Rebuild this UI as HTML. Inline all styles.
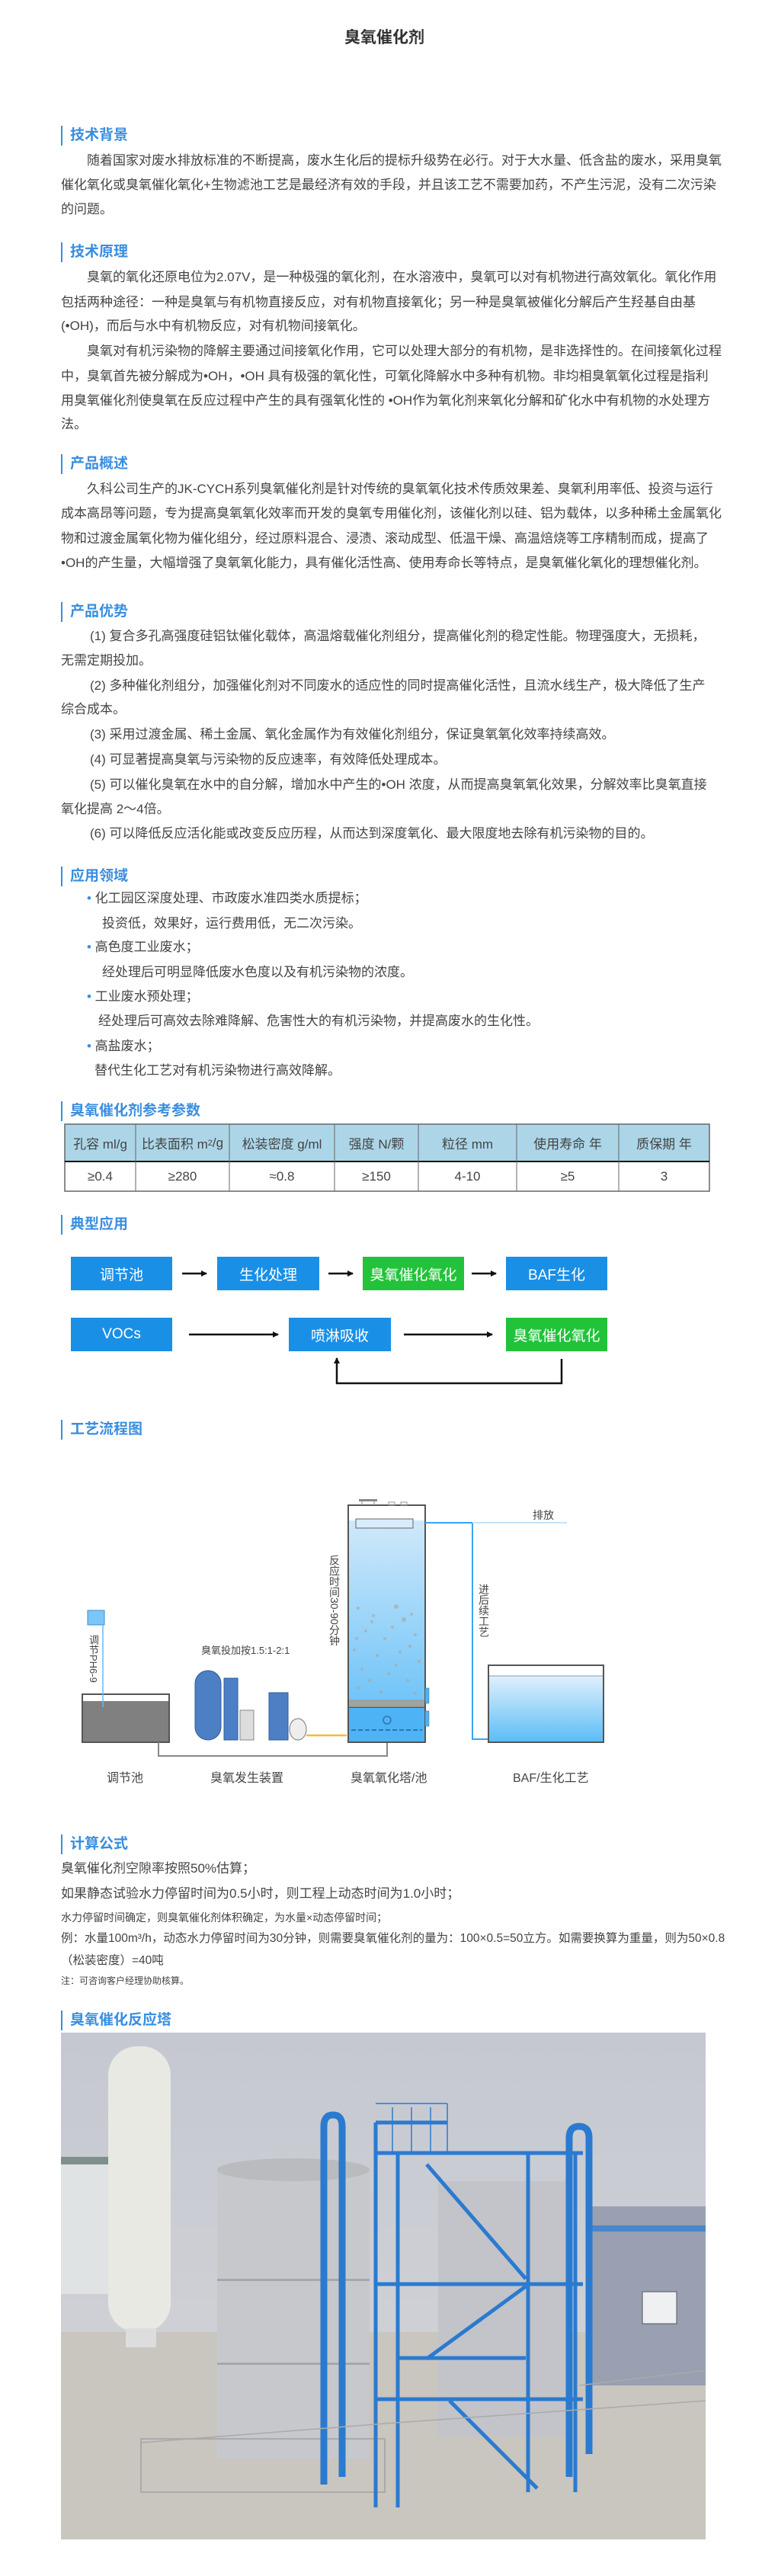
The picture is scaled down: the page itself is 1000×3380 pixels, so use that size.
<!DOCTYPE html>
<html><head><meta charset="utf-8">
<style>
*{margin:0;padding:0;box-sizing:border-box}
body{width:1000px;height:3380px;position:relative;background:#fff;font-family:"Liberation Sans","Noto Sans CJK SC",sans-serif;color:#444;overflow:hidden}
.t{position:absolute;white-space:nowrap;font-size:17px;line-height:24px;height:24px}
.h{position:absolute;left:80px;white-space:nowrap;font-size:19px;font-weight:bold;color:#3a8ee0;line-height:26px;height:26px;padding-left:10px;border-left:2px solid #3a8ee0}
.b{position:absolute;color:#fff;font-size:19px;display:flex;align-items:center;justify-content:center}
.c{position:absolute;font-size:17px;display:flex;align-items:center;justify-content:center;color:#444}
svg{position:absolute;left:0;top:0}
</style></head><body>
<svg width="1000" height="3380" viewBox="0 0 1000 3380">
<defs>
<marker id="ar" markerWidth="8" markerHeight="8" refX="7" refY="4" orient="auto" markerUnits="userSpaceOnUse"><path d="M0,0 L8,4 L0,8 z" fill="#111"/></marker>
<linearGradient id="wt" x1="0" y1="0" x2="0" y2="1"><stop offset="0" stop-color="#d8ecfb"/><stop offset="1" stop-color="#5bbcf7"/></linearGradient>
<linearGradient id="bt" x1="0" y1="0" x2="0" y2="1"><stop offset="0" stop-color="#dff0fc"/><stop offset="1" stop-color="#5cbdf6"/></linearGradient>
<linearGradient id="sky" x1="0" y1="0" x2="0" y2="1"><stop offset="0" stop-color="#c5c8d1"/><stop offset="1" stop-color="#d6d6d9"/></linearGradient>
</defs>
<!-- table -->
<rect x="85" y="1475" width="846" height="49" fill="#acd6e8"/>
<rect x="85" y="1475" width="846" height="88" fill="none" stroke="#666" stroke-width="1.5"/>
<line x1="85" y1="1524" x2="931" y2="1524" stroke="#111" stroke-width="2"/>
<g stroke="#666" stroke-width="1">
<line x1="178" y1="1475" x2="178" y2="1563"/><line x1="301" y1="1475" x2="301" y2="1563"/><line x1="439" y1="1475" x2="439" y2="1563"/><line x1="549" y1="1475" x2="549" y2="1563"/><line x1="678" y1="1475" x2="678" y2="1563"/><line x1="812" y1="1475" x2="812" y2="1563"/>
</g>
<!-- typical app boxes -->
<rect x="93" y="1649" width="133" height="44" fill="#1a8fe6"/>
<rect x="285" y="1649" width="134" height="44" fill="#1a8fe6"/>
<rect x="476" y="1649" width="133" height="44" fill="#22c33a"/>
<rect x="664" y="1649" width="133" height="44" fill="#1a8fe6"/>
<rect x="93" y="1729" width="133" height="44" fill="#1a8fe6"/>
<rect x="379" y="1729" width="134" height="44" fill="#1a8fe6"/>
<rect x="664" y="1729" width="133" height="44" fill="#22c33a"/>
<g stroke="#111" stroke-width="2.5" fill="none">
<line x1="239" y1="1671" x2="271" y2="1671" marker-end="url(#ar)"/>
<line x1="431" y1="1671" x2="463" y2="1671" marker-end="url(#ar)"/>
<line x1="619" y1="1671" x2="651" y2="1671" marker-end="url(#ar)"/>
<line x1="248" y1="1751" x2="365" y2="1751" marker-end="url(#ar)"/>
<line x1="530" y1="1751" x2="646" y2="1751" marker-end="url(#ar)"/>
<polyline points="737,1783 737,1815 442,1815 442,1782" marker-end="url(#ar)"/>
</g>
<!-- process diagram -->
<rect x="108" y="2223" width="114" height="63" fill="#fff" stroke="#555" stroke-width="2"/>
<rect x="109" y="2232" width="112" height="53" fill="#808080"/>
<rect x="115" y="2113" width="22" height="19" fill="#7cc6f5" stroke="#3a8ed8"/>
<line x1="135" y1="2132" x2="135" y2="2240" stroke="#6ab8f0" stroke-width="1.5"/>
<rect x="256" y="2192" width="34" height="91" rx="17" fill="#4d7fc4" stroke="#2e5c9c"/>
<rect x="294" y="2202" width="18" height="81" fill="#4d7fc4" stroke="#2e5c9c"/>
<rect x="315" y="2244" width="18" height="39" fill="#ddd" stroke="#888"/>
<rect x="353" y="2221" width="25" height="62" fill="#4d7fc4" stroke="#2e5c9c"/>
<ellipse cx="391" cy="2269" rx="11" ry="14" fill="#eee" stroke="#777"/>
<line x1="402" y1="2277" x2="455" y2="2277" stroke="#f5b93b" stroke-width="2.5"/>
<polyline points="208,2286 208,2304 508,2304 508,2257" fill="none" stroke="#888" stroke-width="2"/>
<rect x="457" y="1975" width="101" height="311" fill="url(#wt)" stroke="#555" stroke-width="2"/>
<rect x="458" y="1976" width="99" height="19" fill="#fff"/>
<rect x="467" y="1993" width="75" height="12" fill="#d8ecfb" stroke="#666"/>
<rect x="458" y="2240" width="99" height="45" fill="#4db3f5"/>
<line x1="458" y1="2240" x2="557" y2="2240" stroke="#555" stroke-width="2"/>
<rect x="458" y="2230" width="99" height="10" fill="#a89c8e" opacity="0.8"/>
<g fill="#b0a090" opacity="0.55">
<rect x="462" y="2105" width="92" height="125" fill="url(#wt)" opacity="0"/>
<circle cx="470" cy="2110" r="2"/><circle cx="490" cy="2120" r="2"/><circle cx="520" cy="2108" r="3"/><circle cx="540" cy="2118" r="2"/><circle cx="530" cy="2125" r="3"/><circle cx="480" cy="2140" r="2"/><circle cx="505" cy="2150" r="2"/><circle cx="545" cy="2145" r="2"/><circle cx="465" cy="2165" r="2"/><circle cx="495" cy="2172" r="2"/><circle cx="525" cy="2168" r="2"/><circle cx="550" cy="2180" r="2"/><circle cx="475" cy="2190" r="2"/><circle cx="510" cy="2196" r="2"/><circle cx="535" cy="2205" r="2"/><circle cx="470" cy="2215" r="2"/><circle cx="500" cy="2220" r="2"/><circle cx="545" cy="2222" r="2"/><circle cx="488" cy="2128" r="2"/><circle cx="515" cy="2135" r="2"/><circle cx="468" cy="2150" r="2"/><circle cx="538" cy="2160" r="2"/><circle cx="485" cy="2205" r="2"/><circle cx="520" cy="2185" r="2"/>
</g>
<circle cx="508" cy="2257" r="5" fill="none" stroke="#3573b0" stroke-width="1.5"/>
<line x1="461" y1="2270" x2="554" y2="2270" stroke="#2a5d99" stroke-width="1.5" stroke-dasharray="6,3"/>
<rect x="558" y="2215" width="5" height="20" fill="#4db3f5" stroke="#666" stroke-width=".5"/>
<rect x="558" y="2245" width="5" height="20" fill="#4db3f5" stroke="#666" stroke-width=".5"/>
<rect x="471" y="1967" width="24" height="3" fill="#888"/><line x1="475" y1="1967" x2="475" y2="1975" stroke="#888"/><line x1="491" y1="1967" x2="491" y2="1975" stroke="#888"/>
<rect x="510" y="1971" width="8" height="4" fill="none" stroke="#999"/><rect x="526" y="1971" width="8" height="4" fill="none" stroke="#999"/>
<polyline points="558,1998 620,1998 620,2282 641,2282" fill="none" stroke="#3aa4f0" stroke-width="2"/>
<line x1="620" y1="1998" x2="744" y2="1998" stroke="#c5e3f8" stroke-width="2"/>
<rect x="641" y="2185" width="151" height="101" fill="#fff" stroke="#555" stroke-width="2"/>
<rect x="642" y="2199" width="149" height="86" fill="url(#bt)"/>
<line x1="642" y1="2199" x2="791" y2="2199" stroke="#7a9cb8" stroke-width="1"/>
<!-- photo -->
<rect x="80" y="2667" width="846" height="665" fill="url(#sky)"/>
<rect x="80" y="3060" width="846" height="272" fill="#c9c5bf"/>
<rect x="80" y="2830" width="75" height="180" fill="#dfe3e3"/>
<rect x="80" y="2830" width="75" height="10" fill="#7e8f8c"/>
<rect x="775" y="2895" width="151" height="235" fill="#98a0b2"/>
<rect x="775" y="2920" width="151" height="8" fill="#4a86c8"/>
<rect x="843" y="3007" width="45" height="42" fill="#eef0f2" stroke="#555"/>
<rect x="142" y="2685" width="82" height="375" rx="38" fill="#e9e9e4"/>
<rect x="165" y="3055" width="40" height="25" fill="#ddd"/>
<rect x="285" y="2847" width="200" height="380" fill="#c6c8cc"/>
<ellipse cx="385" cy="2847" rx="100" ry="15" fill="#b9bbbf"/>
<rect x="575" y="2862" width="175" height="335" fill="#c2c4c9"/>
<rect x="285" y="2990" width="200" height="3" fill="#a5a7ab"/>
<rect x="285" y="3100" width="200" height="3" fill="#a5a7ab"/>
<rect x="185" y="3200" width="320" height="70" fill="none" stroke="#aaa" stroke-width="2"/>
<g stroke="#2a7ad0" stroke-width="9" fill="none">
<path d="M425,3260 L425,2790 Q425,2775 437,2775 Q449,2775 449,2790 L449,3250"/>
<path d="M747,3250 L747,2805 Q747,2790 760,2790 Q773,2790 773,2805 L773,3220"/>
</g>
<g stroke="#2a7ad0" stroke-width="5" fill="none">
<line x1="493" y1="2785" x2="493" y2="3290"/><line x1="522" y1="2825" x2="522" y2="3290"/>
<line x1="693" y1="2825" x2="693" y2="3270"/><line x1="755" y1="2825" x2="755" y2="3270"/>
<line x1="493" y1="2825" x2="765" y2="2825"/><line x1="493" y1="2997" x2="765" y2="2997"/>
<line x1="493" y1="3148" x2="765" y2="3148"/><line x1="522" y1="3094" x2="690" y2="3094"/>
<line x1="493" y1="2785" x2="587" y2="2785"/>
<line x1="560" y1="2840" x2="690" y2="2990"/><line x1="690" y1="3000" x2="560" y2="3095"/><line x1="590" y1="3150" x2="705" y2="3265"/>
</g>
<g stroke="#2a7ad0" stroke-width="1.5">
<line x1="493" y1="2760" x2="587" y2="2760"/><line x1="587" y1="2760" x2="587" y2="2825"/><line x1="515" y1="2765" x2="515" y2="2825"/><line x1="540" y1="2765" x2="540" y2="2825"/><line x1="565" y1="2765" x2="565" y2="2825"/>
</g>
<g stroke="#aaa" stroke-width="1.5">
<line x1="185" y1="3205" x2="505" y2="3180"/><line x1="505" y1="3180" x2="926" y2="3150"/>
<line x1="760" y1="3130" x2="926" y2="3110"/>
</g>
</svg>

<div class="t" style="left:452px;top:37px;font-size:21px;font-weight:bold;color:#333;line-height:26px">臭氧催化剂</div>

<div class="h" style="top:165px">技术背景</div>
<div class="t" style="left:114px;top:199px">随着国家对废水排放标准的不断提高，废水生化后的提标升级势在必行。对于大水量、低含盐的废水，采用臭氧</div>
<div class="t" style="left:80px;top:231px">催化氧化或臭氧催化氧化+生物滤池工艺是最经济有效的手段，并且该工艺不需要加药，不产生污泥，没有二次污染</div>
<div class="t" style="left:80px;top:263px">的问题。</div>

<div class="h" style="top:318px">技术原理</div>
<div class="t" style="left:114px;top:352px">臭氧的氧化还原电位为2.07V，是一种极强的氧化剂，在水溶液中，臭氧可以对有机物进行高效氧化。氧化作用</div>
<div class="t" style="left:80px;top:385px">包括两种途径：一种是臭氧与有机物直接反应，对有机物直接氧化；另一种是臭氧被催化分解后产生羟基自由基</div>
<div class="t" style="left:80px;top:416px">(•OH)，而后与水中有机物反应，对有机物间接氧化。</div>
<div class="t" style="left:114px;top:449px">臭氧对有机污染物的降解主要通过间接氧化作用，它可以处理大部分的有机物，是非选择性的。在间接氧化过程</div>
<div class="t" style="left:80px;top:482px">中，臭氧首先被分解成为•OH，•OH 具有极强的氧化性，可氧化降解水中多种有机物。非均相臭氧氧化过程是指利</div>
<div class="t" style="left:80px;top:514px">用臭氧催化剂使臭氧在反应过程中产生的具有强氧化性的 •OH作为氧化剂来氧化分解和矿化水中有机物的水处理方</div>
<div class="t" style="left:80px;top:545px">法。</div>

<div class="h" style="top:596px">产品概述</div>
<div class="t" style="left:114px;top:630px">久科公司生产的JK-CYCH系列臭氧催化剂是针对传统的臭氧氧化技术传质效果差、臭氧利用率低、投资与运行</div>
<div class="t" style="left:80px;top:662px">成本高昂等问题，专为提高臭氧氧化效率而开发的臭氧专用催化剂，该催化剂以硅、铝为载体，以多种稀土金属氧化</div>
<div class="t" style="left:80px;top:695px">物和过渡金属氧化物为催化组分，经过原料混合、浸渍、滚动成型、低温干燥、高温焙烧等工序精制而成，提高了</div>
<div class="t" style="left:80px;top:727px">•OH的产生量，大幅增强了臭氧氧化能力，具有催化活性高、使用寿命长等特点，是臭氧催化氧化的理想催化剂。</div>

<div class="h" style="top:790px">产品优势</div>
<div class="t" style="left:118px;top:823px">(1) 复合多孔高强度硅铝钛催化载体，高温熔载催化剂组分，提高催化剂的稳定性能。物理强度大，无损耗，</div>
<div class="t" style="left:80px;top:855px">无需定期投加。</div>
<div class="t" style="left:118px;top:888px">(2) 多种催化剂组分，加强催化剂对不同废水的适应性的同时提高催化活性，且流水线生产，极大降低了生产</div>
<div class="t" style="left:80px;top:919px">综合成本。</div>
<div class="t" style="left:118px;top:952px">(3) 采用过渡金属、稀土金属、氧化金属作为有效催化剂组分，保证臭氧氧化效率持续高效。</div>
<div class="t" style="left:118px;top:985px">(4) 可显著提高臭氧与污染物的反应速率，有效降低处理成本。</div>
<div class="t" style="left:118px;top:1018px">(5) 可以催化臭氧在水中的自分解，增加水中产生的•OH 浓度，从而提高臭氧氧化效果，分解效率比臭氧直接</div>
<div class="t" style="left:80px;top:1050px">氧化提高 2～4倍。</div>
<div class="t" style="left:118px;top:1082px">(6) 可以降低反应活化能或改变反应历程，从而达到深度氧化、最大限度地去除有机污染物的目的。</div>

<div class="h" style="top:1137px">应用领域</div>
<div class="t" style="left:114px;top:1167px"><span style="color:#3a8ee0">•</span> 化工园区深度处理、市政废水准四类水质提标；</div>
<div class="t" style="left:134px;top:1200px">投资低，效果好，运行费用低，无二次污染。</div>
<div class="t" style="left:114px;top:1231px"><span style="color:#3a8ee0">•</span> 高色度工业废水；</div>
<div class="t" style="left:134px;top:1264px">经处理后可明显降低废水色度以及有机污染物的浓度。</div>
<div class="t" style="left:114px;top:1296px"><span style="color:#3a8ee0">•</span> 工业废水预处理；</div>
<div class="t" style="left:129px;top:1328px">经处理后可高效去除难降解、危害性大的有机污染物，并提高废水的生化性。</div>
<div class="t" style="left:114px;top:1361px"><span style="color:#3a8ee0">•</span> 高盐废水；</div>
<div class="t" style="left:124px;top:1393px">替代生化工艺对有机污染物进行高效降解。</div>

<div class="h" style="top:1445px">臭氧催化剂参考参数</div>
<div class="c" style="left:85px;top:1475px;width:93px;height:49px">孔容 ml/g</div>
<div class="c" style="left:178px;top:1475px;width:123px;height:49px">比表面积 m<sup style="font-size:11px">2</sup>/g</div>
<div class="c" style="left:301px;top:1475px;width:138px;height:49px">松装密度 g/ml</div>
<div class="c" style="left:439px;top:1475px;width:110px;height:49px">强度 N/颗</div>
<div class="c" style="left:549px;top:1475px;width:129px;height:49px">粒径 mm</div>
<div class="c" style="left:678px;top:1475px;width:134px;height:49px">使用寿命 年</div>
<div class="c" style="left:812px;top:1475px;width:119px;height:49px">质保期 年</div>
<div class="c" style="left:85px;top:1524px;width:93px;height:39px">≥0.4</div>
<div class="c" style="left:178px;top:1524px;width:123px;height:39px">≥280</div>
<div class="c" style="left:301px;top:1524px;width:138px;height:39px">≈0.8</div>
<div class="c" style="left:439px;top:1524px;width:110px;height:39px">≥150</div>
<div class="c" style="left:549px;top:1524px;width:129px;height:39px">4-10</div>
<div class="c" style="left:678px;top:1524px;width:134px;height:39px">≥5</div>
<div class="c" style="left:812px;top:1524px;width:119px;height:39px">3</div>

<div class="h" style="top:1594px">典型应用</div>
<div class="b" style="left:93px;top:1649px;width:133px;height:44px">调节池</div>
<div class="b" style="left:285px;top:1649px;width:134px;height:44px">生化处理</div>
<div class="b" style="left:476px;top:1649px;width:133px;height:44px">臭氧催化氧化</div>
<div class="b" style="left:664px;top:1649px;width:133px;height:44px">BAF生化</div>
<div class="b" style="left:93px;top:1729px;width:133px;height:44px">VOCs</div>
<div class="b" style="left:379px;top:1729px;width:134px;height:44px">喷淋吸收</div>
<div class="b" style="left:664px;top:1729px;width:133px;height:44px">臭氧催化氧化</div>

<div class="h" style="top:1863px">工艺流程图</div>
<div class="t" style="left:699px;top:1978px;font-size:14px;line-height:20px">排放</div>
<div class="t" style="left:264px;top:2157px;font-size:13px;line-height:18px">臭氧投加按1.5:1-2:1</div>
<div class="t" style="left:114px;top:2145px;font-size:13px;line-height:16px;writing-mode:vertical-rl;height:auto">调节PH6-9</div>
<div class="t" style="left:431px;top:2040px;font-size:14px;line-height:16px;writing-mode:vertical-rl;height:auto">反应时间30-90分钟</div>
<div class="t" style="left:627px;top:2078px;font-size:14px;line-height:16px;writing-mode:vertical-rl;height:auto">进后续工艺</div>
<div class="t" style="left:140px;top:2322px;font-size:16px">调节池</div>
<div class="t" style="left:276px;top:2322px;font-size:16px">臭氧发生装置</div>
<div class="t" style="left:460px;top:2322px;font-size:16px">臭氧氧化塔/池</div>
<div class="t" style="left:673px;top:2322px;font-size:16px">BAF/生化工艺</div>

<div class="h" style="top:2407px">计算公式</div>
<div class="t" style="left:80px;top:2440px">臭氧催化剂空隙率按照50%估算；</div>
<div class="t" style="left:80px;top:2473px">如果静态试验水力停留时间为0.5小时，则工程上动态时间为1.0小时；</div>
<div class="t" style="left:80px;top:2504px;font-size:14px">水力停留时间确定，则臭氧催化剂体积确定，为水量×动态停留时间；</div>
<div class="t" style="left:80px;top:2532px;font-size:15.5px">例：水量100m³/h，动态水力停留时间为30分钟，则需要臭氧催化剂的量为：100×0.5=50立方。如需要换算为重量，则为50×0.8</div>
<div class="t" style="left:80px;top:2561px;font-size:15.5px">（松装密度）=40吨</div>
<div class="t" style="left:80px;top:2589px;font-size:12px;line-height:20px">注：可咨询客户经理协助核算。</div>

<div class="h" style="top:2638px">臭氧催化反应塔</div>
</body></html>
